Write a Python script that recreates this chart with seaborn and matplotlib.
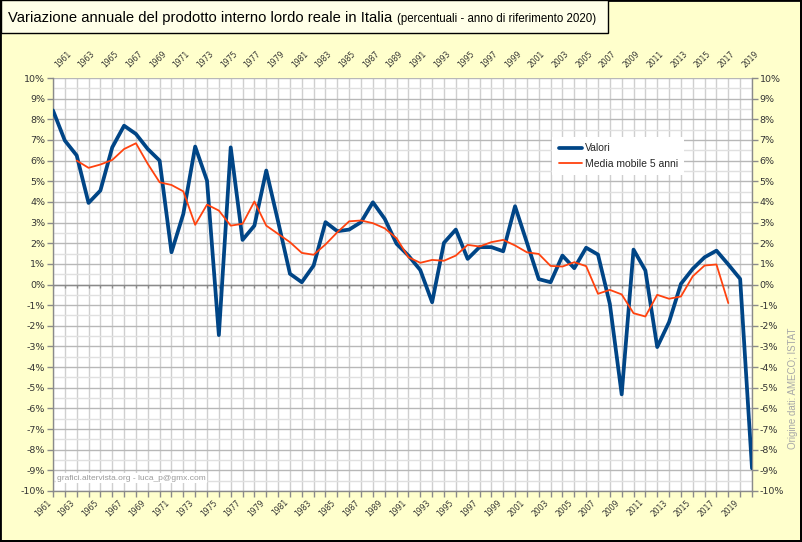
import numpy as np
import pandas as pd
import matplotlib
matplotlib.use('Agg')
import matplotlib.pyplot as plt
import seaborn as sns
from matplotlib.patches import Rectangle
from matplotlib.ticker import MultipleLocator, FixedLocator, FuncFormatter

# ---------------- data ----------------
years = list(range(1961, 2021))
valori = [8.43, 6.97, 6.25, 3.95, 4.55, 6.64, 7.69, 7.29, 6.56, 6.00,
          1.56, 3.42, 6.68, 5.03, -2.45, 6.64, 2.16, 2.85, 5.52, 3.05,
          0.52, 0.11, 0.92, 3.02, 2.58, 2.66, 3.02, 3.98, 3.18, 1.97,
          1.40, 0.70, -0.86, 2.02, 2.66, 1.24, 1.81, 1.81, 1.61, 3.79,
          2.03, 0.26, 0.11, 1.40, 0.79, 1.78, 1.45, -0.94, -5.32, 1.69,
          0.68, -3.03, -1.82, 0.03, 0.76, 1.32, 1.64, 0.97, 0.27, -8.90]
ma_years = list(range(1963, 2019))
media_mobile = [6.00, 5.65, 5.81, 6.03, 6.56, 6.84, 5.84, 4.95, 4.82, 4.51,
                2.89, 3.87, 3.58, 2.85, 2.94, 4.02, 2.85, 2.45, 2.05, 1.53,
                1.44, 1.94, 2.53, 3.06, 3.10, 2.97, 2.72, 2.24, 1.32, 1.05,
                1.19, 1.15, 1.40, 1.92, 1.84, 2.05, 2.16, 1.89, 1.56, 1.48,
                0.90, 0.87, 1.08, 0.89, -0.45, -0.26, -0.48, -1.39, -1.55, -0.50,
                -0.69, -0.58, 0.40, 0.92, 0.97, -0.90]
label_years = list(range(1961, 2021, 2))
y_ticks = list(range(-10, 11))

title_main = "Variazione annuale del prodotto interno lordo reale in Italia"
title_sub = "(percentuali - anno di riferimento 2020)"
legend_labels = ["Valori", "Media mobile 5 anni"]
credit = "grafici.altervista.org - luca_p@gmx.com"
source = "Origine dati: AMECO; ISTAT"

df_val = pd.DataFrame({"anno": years, "valore": valori})
df_ma = pd.DataFrame({"anno": ma_years, "valore": media_mobile})

# ---------------- figure ----------------
sns.set_style("white")
plt.rcParams['font.family'] = ['DejaVu Sans']

W, H = 803, 542
fig = plt.figure(figsize=(W / 100, H / 100), dpi=100)
fig.patch.set_facecolor('#ffffcc')

ax = fig.add_axes([53 / W, 1 - 491 / H, (752 - 53) / W, (491 - 78) / H])
ax.set_facecolor('white')

BLUE = '#004586'
RED = '#ff420e'

sns.lineplot(data=df_val, x="anno", y="valore", ax=ax, color=BLUE, lw=2.7,
             label=legend_labels[0], zorder=5)
sns.lineplot(data=df_ma, x="anno", y="valore", ax=ax, color=RED, lw=1.3,
             label=legend_labels[1], zorder=6)

ax.set_xlim(years[0], years[-1])
ax.set_ylim(-10, 10)
ax.set_xlabel("")
ax.set_ylabel("")

# grids
ax.xaxis.set_major_locator(FixedLocator(label_years))
ax.xaxis.set_minor_locator(MultipleLocator(1))
ax.yaxis.set_major_locator(FixedLocator(y_ticks))
ax.yaxis.set_minor_locator(MultipleLocator(0.5))
ax.yaxis.set_major_formatter(FuncFormatter(lambda v, p: f"{int(round(v))}%"))
ax.grid(which='major', axis='y', color='#b8b8b8', lw=1.0, zorder=0)
ax.grid(which='minor', axis='y', color='#e0e0e0', lw=1.0, zorder=0)
ax.grid(which='both', axis='x', color='#cfcfcf', lw=1.0, zorder=0)
ax.set_axisbelow(True)

# zero line with small ticks
ax.axhline(0, color='#8a8a8a', lw=1.0, zorder=2)
ax.vlines(years, -0.18, 0, color='#8a8a8a', lw=1.0, zorder=2)

# ticks
ax.tick_params(axis='x', which='both', direction='out', length=4, width=1,
               color='#8a8a8a', labelsize=5.5, pad=1, bottom=True)
for lab in ax.get_xticklabels():
    lab.set_rotation(45)
    lab.set_ha('right')
    lab.set_va('top')
ax.tick_params(axis='y', which='major', direction='out', length=4, width=1,
               color='#8a8a8a', labelsize=6.8, pad=1.5, left=True, right=True,
               labelleft=True, labelright=True, labelcolor='#333333')
ax.tick_params(axis='y', which='minor', length=0)
ax.tick_params(axis='x', labelcolor='#333333')

for s in ['left', 'right', 'bottom']:
    ax.spines[s].set_color('#8a8a8a')
    ax.spines[s].set_linewidth(1.0)
ax.spines['top'].set_visible(False)

sec = ax.secondary_xaxis('top')
sec.xaxis.set_major_locator(FixedLocator(label_years))
sec.tick_params(axis='x', length=0, labelsize=5.5, pad=6, labelcolor='#333333')
for lab in sec.get_xticklabels():
    lab.set_rotation(45)
    lab.set_ha('left')
    lab.set_va('bottom')
sec.spines['top'].set_visible(False)

# legend
leg = ax.legend(loc='upper left', bbox_to_anchor=(0.707, 0.87), frameon=True,
                facecolor='white', edgecolor='none', framealpha=1.0,
                handlelength=2.2, handletextpad=0.3,
                labelspacing=0.55, borderpad=0.6, fancybox=False,
                prop={'family': 'Liberation Sans', 'size': 7.5})
leg.set_zorder(10)

# credit and source
ax.text(0.006, 0.022, credit, transform=ax.transAxes, fontsize=6,
        family='Liberation Sans', color='#9a9a9a', ha='left', va='bottom', zorder=7,
        bbox=dict(facecolor='white', edgecolor='none', pad=1))
fig.text(793 / W, 1 - 388 / H, source, rotation=90, fontsize=7,
         family='Liberation Sans', color='#a8a8a8', ha='center', va='center')

# title box
fig.patches.append(Rectangle((0.5 / W, 1 - 33 / H), 608 / W, 32.5 / H,
                             transform=fig.transFigure, facecolor='#ffffe8',
                             edgecolor='black', lw=1.0, zorder=1))
t1 = fig.text(8 / W, 1 - 22 / H, title_main, fontsize=10.6, family='Liberation Sans',
              color='black', ha='left', va='baseline', zorder=3)
fig.canvas.draw()
bb = t1.get_window_extent()
fig.text((bb.x1 + 5) / W, 1 - 22 / H, title_sub, fontsize=8.3,
         family='Liberation Sans', color='black', ha='left', va='baseline', zorder=3)

# outer border
fig.patches.append(Rectangle((0, 0), 1, 1, transform=fig.transFigure,
                             facecolor='none', edgecolor='black', lw=2.0, zorder=0))
fig.patches.append(Rectangle((0, 0), 1 - 1 / W, 2.5 / H, transform=fig.transFigure,
                             facecolor='black', edgecolor='none', zorder=0))
fig.patches.append(Rectangle((1 - 3 / W, 0), 3 / W, 1, transform=fig.transFigure,
                             facecolor='black', edgecolor='none', zorder=0))

fig.savefig('out.png', dpi=100, facecolor=fig.get_facecolor())
